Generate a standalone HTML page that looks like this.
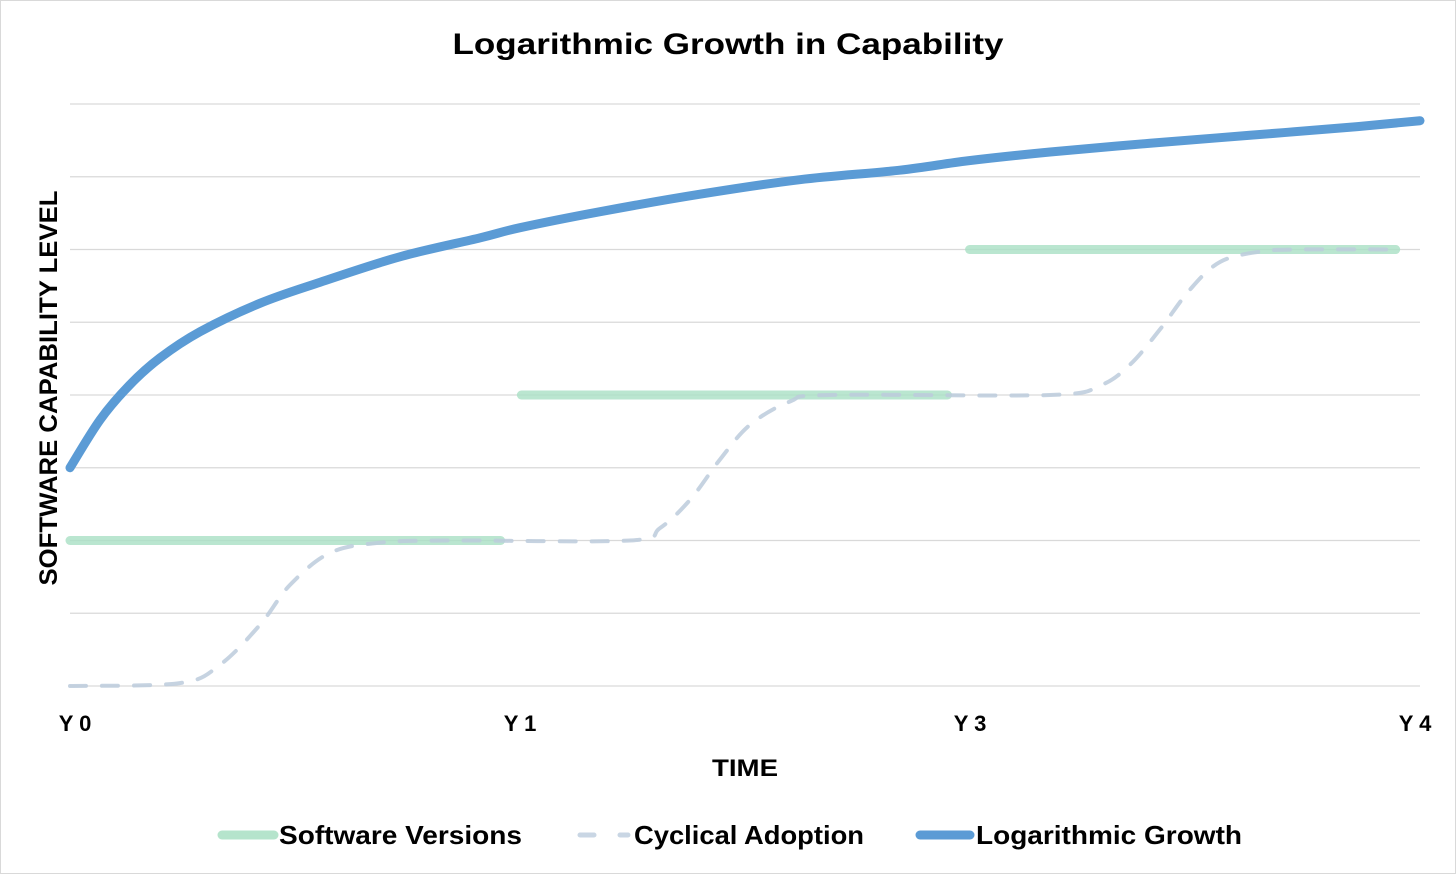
<!DOCTYPE html>
<html><head><meta charset="utf-8"><style>
html,body{margin:0;padding:0;background:#fff;}
svg{display:block;font-family:"Liberation Sans",sans-serif;}
</style></head><body>
<svg id="chart" width="1456" height="874" viewBox="0 0 1456 874">
<rect x="0.5" y="0.5" width="1455" height="873" fill="#fff" stroke="#d9d9d9"/>
<text x="728" y="54" text-anchor="middle" font-weight="bold" font-size="30" textLength="551" lengthAdjust="spacingAndGlyphs">Logarithmic Growth in Capability</text>
<g id="grid"></g>
<g id="series"></g>
<g id="xticks"></g>
<text x="745" y="776" text-anchor="middle" font-weight="bold" font-size="24" textLength="66" lengthAdjust="spacingAndGlyphs">TIME</text>
<text transform="translate(57,388) rotate(-90)" text-anchor="middle" font-weight="bold" font-size="25" textLength="395" lengthAdjust="spacingAndGlyphs">SOFTWARE CAPABILITY LEVEL</text>
<g>
<g>
<line x1="222" y1="835" x2="274" y2="835" stroke="#b5e4cc" stroke-width="9" stroke-linecap="round"/>
<text x="279" y="844" font-weight="bold" font-size="26" textLength="243" lengthAdjust="spacingAndGlyphs">Software Versions</text></g>
<g>
<line x1="580" y1="835" x2="628" y2="835" stroke="#c9d6e4" stroke-width="5" stroke-linecap="round" stroke-dasharray="14,26"/>
<text x="634" y="844" font-weight="bold" font-size="26" textLength="230" lengthAdjust="spacingAndGlyphs">Cyclical Adoption</text></g>
<g>
<line x1="920" y1="835" x2="970" y2="835" stroke="#5b9bd5" stroke-width="9" stroke-linecap="round"/>
<text x="976" y="844" font-weight="bold" font-size="26" textLength="266" lengthAdjust="spacingAndGlyphs">Logarithmic Growth</text></g>
</g>
</svg>
<script>
const xTickLabels=["Y 0","Y 1","Y 3","Y 4"];
const yTicks=[0,1,2,3,4,5,6,7,8];
const logT=[0,0.067,0.133,0.2,0.289,0.422,0.556,0.733,0.911,1,1.178,1.4,1.622,1.844,1.996,2.178,2.4,2.622,2.844,3];
const logV=[3,3.66,4.14,4.51,4.87,5.26,5.55,5.9,6.16,6.3,6.52,6.76,6.96,7.09,7.22,7.34,7.46,7.57,7.68,7.77];
const adoptT=[0,0.244,0.333,0.422,0.489,0.578,0.689,0.844,1.244,1.311,1.378,1.444,1.511,1.6,1.689,2.178,2.289,2.356,2.422,2.489,2.556,2.644,2.733,2.956];
const adoptV=[0,0.04,0.29,0.84,1.39,1.83,1.97,2,2,2.17,2.56,3.11,3.59,3.91,4,4,4.13,4.42,4.9,5.45,5.83,5.97,6,6];
const verStart=[0,1.003,1.999];
const verEnd=[0.957,1.95,2.946];
const verLevel=[2,4,6];
const NS="http://www.w3.org/2000/svg";
const X=t=>70+t*450;
const Y=v=>686-v*72.75;
function mk(tag,attrs,parent){const e=document.createElementNS(NS,tag);for(const k in attrs)e.setAttribute(k,attrs[k]);parent.appendChild(e);return e;}
function smooth(pts){let d='M'+pts[0][0]+','+pts[0][1];
for(let i=0;i<pts.length-1;i++){const p0=pts[Math.max(i-1,0)],p1=pts[i],p2=pts[i+1],p3=pts[Math.min(i+2,pts.length-1)];
const c1=[p1[0]+(p2[0]-p0[0])/6,p1[1]+(p2[1]-p0[1])/6],c2=[p2[0]-(p3[0]-p1[0])/6,p2[1]-(p3[1]-p1[1])/6];
d+=' C'+c1[0]+','+c1[1]+' '+c2[0]+','+c2[1]+' '+p2[0]+','+p2[1];}return d;}
const grid=document.getElementById('grid');
yTicks.forEach(v=>{const l=mk('line',{x1:70,x2:1420,y1:Y(v),y2:Y(v),stroke:'#d9d9d9','stroke-width':1.3},grid);

});
const xt=document.getElementById('xticks');
xTickLabels.forEach((s,i)=>{const t=mk('text',{x:X(i)+(i==3?-5:i==0?5:0),y:731,'text-anchor':'middle','font-weight':'bold','font-size':22},xt);t.textContent=s;

});
const ser=document.getElementById('series');
verLevel.forEach((lv,i)=>{const l=mk('line',{x1:X(verStart[i]),x2:X(verEnd[i]),y1:Y(lv),y2:Y(lv),stroke:'#a9e0c4','stroke-opacity':0.8,'stroke-width':9,'stroke-linecap':'round'},ser);

});
const ad=mk('path',{d:smooth(adoptT.map((t,i)=>[X(t),Y(adoptV[i])])),fill:'none',stroke:'#bccbdc','stroke-opacity':0.85,'stroke-width':4,'stroke-dasharray':'16,16','stroke-linecap':'round','stroke-linejoin':'round'},ser);


const lg=mk('path',{d:smooth(logT.map((t,i)=>[X(t),Y(logV[i])])),fill:'none',stroke:'#5b9bd5','stroke-width':9,'stroke-linecap':'round','stroke-linejoin':'round'},ser);


</script>
</body></html>
